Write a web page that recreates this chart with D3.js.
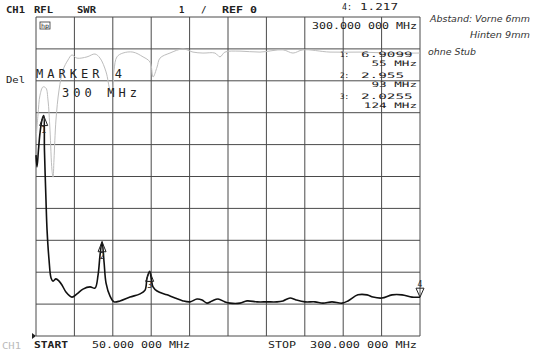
<!DOCTYPE html>
<html lang="en">
<head>
  <meta charset="UTF-8">
  <title>SWR plot</title>
  <style>
    body { margin: 0; background: #fff; }
    text { font-family: "DejaVu Sans Mono", monospace; fill: #222; }
    .hand { font-family: "DejaVu Sans", sans-serif; font-style: italic; fill: #333; }
  </style>
</head>
<body>
  <script src="https://d3js.org/d3.v7.min.js"></script>
  <div id="chart"></div>

  <script>
    // grid / scale values
    const gridFreqs = [50, 75, 100, 125, 150, 175, 200, 225, 250, 275, 300]
    const gridSwr = [0, 1, 2, 3, 4, 5, 6, 7, 8, 9, 10]

    const traceFreq = [50, 50.65, 51.6, 52.6, 53.9, 55, 55.5, 56.5, 57.2, 58.5, 59.8, 61.1, 63, 65, 66.9, 69.5,
      73.4, 76.7, 80.6, 85.2, 88.4, 90.4, 91.7, 93, 94.3, 95.6, 98.2, 100.8, 104.7, 111.2, 117.7, 121,
      122.3, 124, 125.2, 126.2, 128.8, 135.3, 140.5, 145.7, 150.3, 154.8, 158.1, 161.3, 164.6, 168.5,
      173, 176.3, 182.8, 187.4, 193.9, 200.4, 206.9, 210.8, 215.4, 219.3, 225.1, 231.6, 236.8, 242.7,
      249.2, 253.1, 259.6, 265.5, 269.4, 275.2, 281.8, 288.3, 294.8, 300]
    const traceSwr = [5.67, 5.3, 5.83, 6.36, 6.77, 6.91, 5.83, 4.26, 3.32, 2.38, 1.82, 1.72, 1.79, 1.72, 1.6, 1.38,
      1.22, 1.32, 1.47, 1.54, 1.5, 1.91, 2.54, 2.955, 2.32, 1.66, 1.25, 1.07, 1.1, 1.22, 1.32, 1.44,
      1.82, 2.0255, 1.75, 1.54, 1.41, 1.29, 1.19, 1.1, 1.07, 1.16, 1.13, 1.03, 1.1, 1.16,
      1.07, 1.03, 1.03, 1.1, 1.07, 1.07, 1.07, 1.1, 1.19, 1.13, 1.07, 1.07, 1.03, 1.07,
      1.03, 1.1, 1.29, 1.29, 1.22, 1.19, 1.29, 1.29, 1.22, 1.217]

    // faint memory trace in the upper part
    const memFreq = [50, 51.3, 52.6, 54.6, 56.5, 57.8, 59.1, 60.4, 61.1, 61.7, 63, 65, 67.6, 70.8, 73.4, 76.7,
      83.2, 88.4, 91.7, 95.6, 98.2, 99.5, 100.8, 102.7, 106.6, 113.1, 119.7, 124.2, 126.2, 128.8, 130.7,
      137.2, 145.7, 152.2, 158.7, 166.5, 169.8, 173, 182.8, 195.8, 210.8, 217.3, 223.8, 241.4, 261, 280.5, 300]
    const memSwr = [6.14, 6.93, 7.55, 7.81, 7.77, 7.4, 6.46, 5.2, 4.98, 5.52, 6.77, 7.71, 8.34, 8.65, 8.81, 8.71,
      8.75, 8.84, 8.71, 8.28, 7.71, 7.62, 8.34, 8.75, 8.87, 8.9, 8.75, 8.59, 8.12, 8.43, 8.71,
      8.87, 9.0, 8.9, 8.87, 8.87, 8.75, 8.9, 8.93, 8.9, 8.97, 8.87, 8.97, 8.9, 8.9, 8.87, 8.87]

    // markers
    const markerNum = [1, 2, 3, 4]
    const markerFreq = [55, 93, 124, 300]
    const markerSwr = [6.9099, 2.955, 2.0255, 1.217]
    const markerText = ['6.9099', '2.955', '2.0255', '1.217']
    const markerFreqText = ['55 MHz', '93 MHz', '124 MHz', '300.000 000 MHz']

    const svg = d3.select('#chart')
      .append('svg')
      .attr('width', 535)
      .attr('height', 355)

    const x = d3.scaleLinear().domain([50, 300]).range([36, 420])
    const y = d3.scaleLinear().domain([0, 10]).range([336, 17])

    // grid
    svg.append('g')
      .selectAll('line')
      .data(gridFreqs)
      .join('line')
      .attr('x1', d => x(d)).attr('x2', d => x(d))
      .attr('y1', y(10)).attr('y2', y(0))
      .attr('stroke', '#4a4a4a')
      .attr('stroke-width', 1)

    svg.append('g')
      .selectAll('line')
      .data(gridSwr)
      .join('line')
      .attr('x1', x(50)).attr('x2', x(300))
      .attr('y1', d => y(d)).attr('y2', d => y(d))
      .attr('stroke', '#4a4a4a')
      .attr('stroke-width', 1)

    const line = d3.line()
      .x(d => x(d[0]))
      .y(d => y(d[1]))
      .curve(d3.curveCatmullRom.alpha(0.5))

    // memory trace
    svg.append('path')
      .datum(d3.zip(memFreq, memSwr))
      .attr('d', line)
      .attr('fill', 'none')
      .attr('stroke', '#bdbdbd')
      .attr('stroke-width', 1)

    // data trace
    svg.append('path')
      .datum(d3.zip(traceFreq, traceSwr))
      .attr('d', line)
      .attr('fill', 'none')
      .attr('stroke', '#111')
      .attr('stroke-width', 1.6)

    // marker symbols
    const mk = svg.append('g')
    markerNum.forEach((n, i) => {
      const mx = x(markerFreq[i]), my = y(markerSwr[i])
      if (n < 4) {
        mk.append('path')
          .attr('d', `M${mx},${my} L${mx - 4},${my + 10} L${mx + 4},${my + 10} Z`)
          .attr('fill', 'none').attr('stroke', '#222').attr('stroke-width', 1)
        mk.append('text').attr('x', mx).attr('y', my + 17)
          .attr('text-anchor', 'middle').attr('font-size', 8).text(n)
      } else {
        mk.append('path')
          .attr('d', `M${mx},${my} L${mx - 4},${my - 9} L${mx + 4},${my - 9} Z`)
          .attr('fill', 'none').attr('stroke', '#222').attr('stroke-width', 1)
        mk.append('text').attr('x', mx).attr('y', my - 10)
          .attr('text-anchor', 'middle').attr('font-size', 8).text(n)
      }
    })

    // reference line indicator
    svg.append('path')
      .attr('d', `M${x(50) - 4},${y(0) - 3} L${x(50)},${y(0)} L${x(50) - 4},${y(0) + 3} Z`)
      .attr('fill', '#222')

    // texts (plotter font is wide, so glyphs get stretched to the measured widths)
    function label(t, px, py, size, len, opts = {}) {
      const el = svg.append('text')
        .attr('x', px).attr('y', py)
        .attr('font-size', size)
        .text(t)
      if (len) el.attr('textLength', len).attr('lengthAdjust', opts.adjust || 'spacingAndGlyphs')
      if (opts.anchor) el.attr('text-anchor', opts.anchor)
      if (opts.fill) el.style('fill', opts.fill)
      if (opts.weight) el.attr('font-weight', opts.weight)
      return el
    }

    // header
    label('CH1', 6, 13, 9, 19, { weight: 'bold' })
    label('RFL', 34, 13, 9, 19, { weight: 'bold' })
    label('SWR', 77, 13, 9, 19, { weight: 'bold' })
    label('1', 179, 13, 9, null, { weight: 'bold' })
    label('/', 201, 13, 9, null, { weight: 'bold' })
    label('REF 0', 222, 13, 9, 35, { weight: 'bold' })

    // active marker readout
    label(markerNum[3] + ':', 342, 10, 9, 10)
    label(markerText[3], 360, 10, 9, 38)
    label(markerFreqText[3], 312, 29, 9, 105)

    // marker list
    const listY = [57, 78, 99]
    markerNum.slice(0, 3).forEach((n, i) => {
      label(n + ':', 340, listY[i], 7.5, 9)
      label(markerText[i], 361, listY[i], 7.5, markerText[i].length * 8.6)
      label(markerFreqText[i], 417, listY[i] + 9, 7.5, markerFreqText[i].length * 7.6, { anchor: 'end' })
    })

    // left side
    label('Del', 6, 83, 9, 19)
    label('MARKER 4', 36, 78, 12, 86, { adjust: 'spacing' })
    label('300 MHz', 62, 97, 12, 75, { adjust: 'spacing' })

    // small logo box
    svg.append('rect').attr('x', 40).attr('y', 22).attr('width', 10).attr('height', 7)
      .attr('fill', 'none').attr('stroke', '#333').attr('stroke-width', 0.8)
    label('hp', 41, 28, 6, 8)

    // bottom
    label('CH1', 2, 349, 9, 19, { fill: '#bbb' })
    label('START', 34, 348, 9, 34, { weight: 'bold' })
    label('50.000 000 MHz', 92, 348, 9, 98)
    label('STOP', 268, 348, 9, 28)
    label('300.000 000 MHz', 310, 348, 9, 107)

    // handwritten notes
    svg.append('text').attr('class', 'hand').attr('x', 430).attr('y', 22)
      .attr('font-size', 9).attr('textLength', 100).attr('lengthAdjust', 'spacingAndGlyphs')
      .text('Abstand: Vorne 6mm')
    svg.append('text').attr('class', 'hand').attr('x', 470).attr('y', 38)
      .attr('font-size', 9).attr('textLength', 60).attr('lengthAdjust', 'spacingAndGlyphs')
      .text('Hinten 9mm')
    svg.append('text').attr('class', 'hand').attr('x', 428).attr('y', 55)
      .attr('font-size', 8.5).attr('textLength', 48).attr('lengthAdjust', 'spacingAndGlyphs')
      .text('ohne Stub')
  </script>
</body>
</html>
